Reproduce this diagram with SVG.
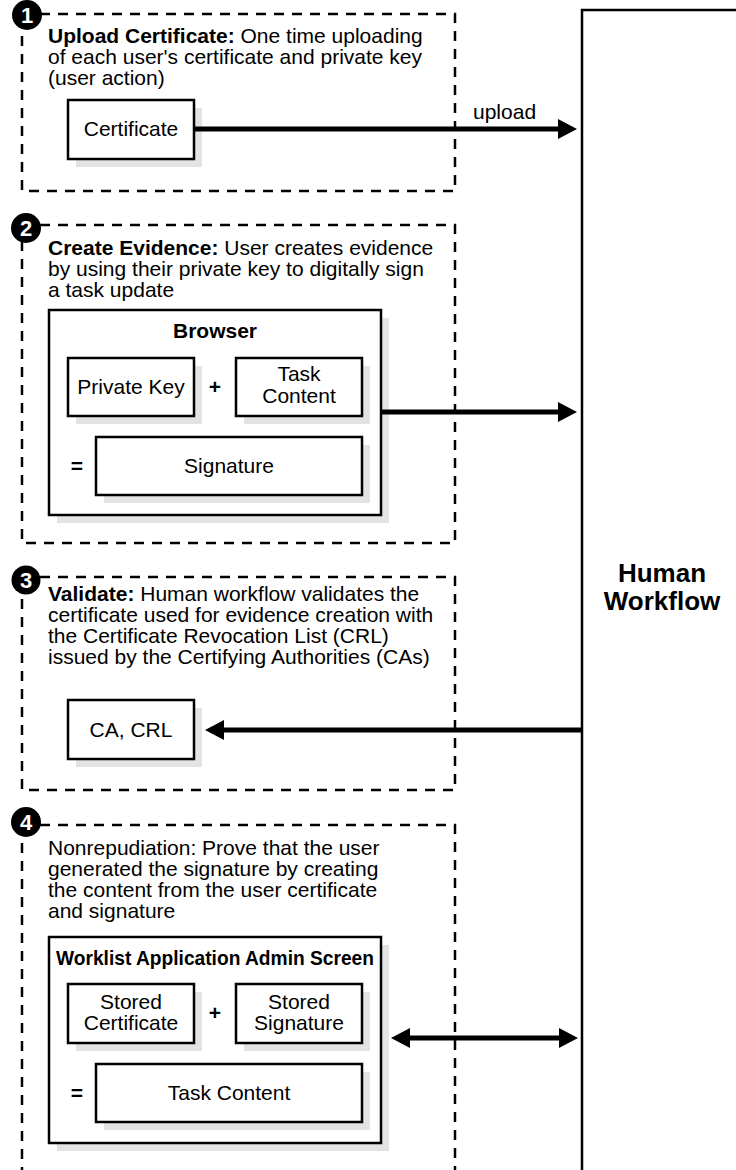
<svg xmlns="http://www.w3.org/2000/svg" width="736" height="1170" viewBox="0 0 736 1170">
<style>
text{font-family:"Liberation Sans",Arial,Helvetica,sans-serif;font-size:21px;fill:#000}
.b{font-weight:bold}
.c{text-anchor:middle}
.dash{fill:none;stroke:#000;stroke-width:2.5;stroke-dasharray:10 8}
.box{fill:#fff;stroke:#000;stroke-width:2.5}
.sh{fill:#e3e3e3}
.badge{fill:#000}
.num{fill:#fff;font-weight:bold;font-size:22px;text-anchor:middle}
.conn{stroke:#000;stroke-width:5;fill:none}
</style>
<defs>
<marker id="ah" markerUnits="userSpaceOnUse" markerWidth="19" markerHeight="20" refX="2" refY="10" orient="auto-start-reverse" viewBox="0 0 19 20">
<path d="M0,0 L19,10 L0,20 z" fill="#000"/>
</marker>
</defs>

<g id="human-workflow">
<rect class="box" x="582" y="10" width="200" height="1200"/>
<text class="b c" x="662" y="582" style="font-size:26px">Human</text>
<text class="b c" x="662" y="610" style="font-size:26px">Workflow</text>
</g>

<g id="step1">
<rect class="dash" x="22" y="14" width="433" height="177"/>
<circle class="badge" cx="27" cy="15" r="15"/>
<text class="num" x="27" y="23">1</text>
<text x="48" y="43"><tspan class="b">Upload Certificate:</tspan> One time uploading</text>
<text x="48" y="64">of each user's certificate and private key</text>
<text x="48" y="85">(user action)</text>
</g>
<g id="certificate">
<rect class="sh" x="76" y="108" width="126" height="59"/>
<rect class="box" x="68" y="100" width="126" height="59"/>
<text class="c" x="131" y="136">Certificate</text>
</g>

<g id="step2">
<rect class="dash" x="22" y="225" width="433" height="318"/>
<circle class="badge" cx="26" cy="228" r="15"/>
<text class="num" x="26" y="236">2</text>
<text x="48" y="255"><tspan class="b">Create Evidence:</tspan> User creates evidence</text>
<text x="48" y="276">by using their private key to digitally sign</text>
<text x="48" y="297">a task update</text>
</g>
<g id="browser">
<rect class="sh" x="57" y="318" width="332" height="205"/>
<rect class="box" x="49" y="310" width="332" height="205"/>
<text class="b c" x="215" y="338">Browser</text>
</g>
<g id="private-key">
<rect class="sh" x="76" y="366" width="126" height="58"/>
<rect class="box" x="68" y="358" width="126" height="58"/>
<text class="c" x="131" y="394">Private Key</text>
</g>
<g id="plus1"><text class="b c" x="215" y="394">+</text></g>
<g id="task-content">
<rect class="sh" x="244" y="366" width="126" height="58"/>
<rect class="box" x="236" y="358" width="126" height="58"/>
<text class="c" x="299" y="381">Task</text>
<text class="c" x="299" y="403">Content</text>
</g>
<g id="equals1"><text class="b c" x="77" y="473">=</text></g>
<g id="signature">
<rect class="sh" x="104" y="445" width="266" height="58"/>
<rect class="box" x="96" y="437" width="266" height="58"/>
<text class="c" x="229" y="473">Signature</text>
</g>

<g id="step3">
<rect class="dash" x="22" y="577" width="433" height="213"/>
<circle class="badge" cx="26" cy="580" r="14.5"/>
<text class="num" x="26" y="588">3</text>
<text x="48" y="601"><tspan class="b">Validate:</tspan> Human workflow validates the</text>
<text x="48" y="622">certificate used for evidence creation with</text>
<text x="48" y="643">the Certificate Revocation List (CRL)</text>
<text x="48" y="664">issued by the Certifying Authorities (CAs)</text>
</g>
<g id="ca-crl">
<rect class="sh" x="76" y="708" width="126" height="59"/>
<rect class="box" x="68" y="700" width="126" height="59"/>
<text class="c" x="131" y="737">CA, CRL</text>
</g>

<g id="step4">
<rect class="dash" x="22" y="825" width="433" height="400"/>
<circle class="badge" cx="26" cy="822" r="15"/>
<text class="num" x="26" y="830">4</text>
<text x="48" y="855">Nonrepudiation: Prove that the user</text>
<text x="48" y="876">generated the signature by creating</text>
<text x="48" y="897">the content from the user certificate</text>
<text x="48" y="918">and signature</text>
</g>
<g id="worklist">
<rect class="sh" x="57" y="945" width="332" height="206"/>
<rect class="box" x="49" y="937" width="332" height="206"/>
<text class="b c" x="215" y="965" textLength="318" lengthAdjust="spacingAndGlyphs">Worklist Application Admin Screen</text>
</g>
<g id="stored-certificate">
<rect class="sh" x="76" y="992" width="126" height="59"/>
<rect class="box" x="68" y="984" width="126" height="59"/>
<text class="c" x="131" y="1009">Stored</text>
<text class="c" x="131" y="1030">Certificate</text>
</g>
<g id="plus2"><text class="b c" x="215" y="1020">+</text></g>
<g id="stored-signature">
<rect class="sh" x="244" y="992" width="126" height="59"/>
<rect class="box" x="236" y="984" width="126" height="59"/>
<text class="c" x="299" y="1009">Stored</text>
<text class="c" x="299" y="1030">Signature</text>
</g>
<g id="equals2"><text class="b c" x="77" y="1100">=</text></g>
<g id="task-content-2">
<rect class="sh" x="104" y="1072" width="266" height="58"/>
<rect class="box" x="96" y="1064" width="266" height="58"/>
<text class="c" x="229" y="1100">Task Content</text>
</g>

<g id="connectors">
<line class="conn" x1="194" y1="129" x2="560" y2="129" marker-end="url(#ah)"/>
<text x="473" y="119">upload</text>
<line class="conn" x1="381" y1="412" x2="560" y2="412" marker-end="url(#ah)"/>
<line class="conn" x1="582" y1="730" x2="222" y2="730" marker-end="url(#ah)"/>
<line class="conn" x1="408" y1="1038" x2="561" y2="1038" marker-start="url(#ah)" marker-end="url(#ah)"/>
</g>
</svg>
